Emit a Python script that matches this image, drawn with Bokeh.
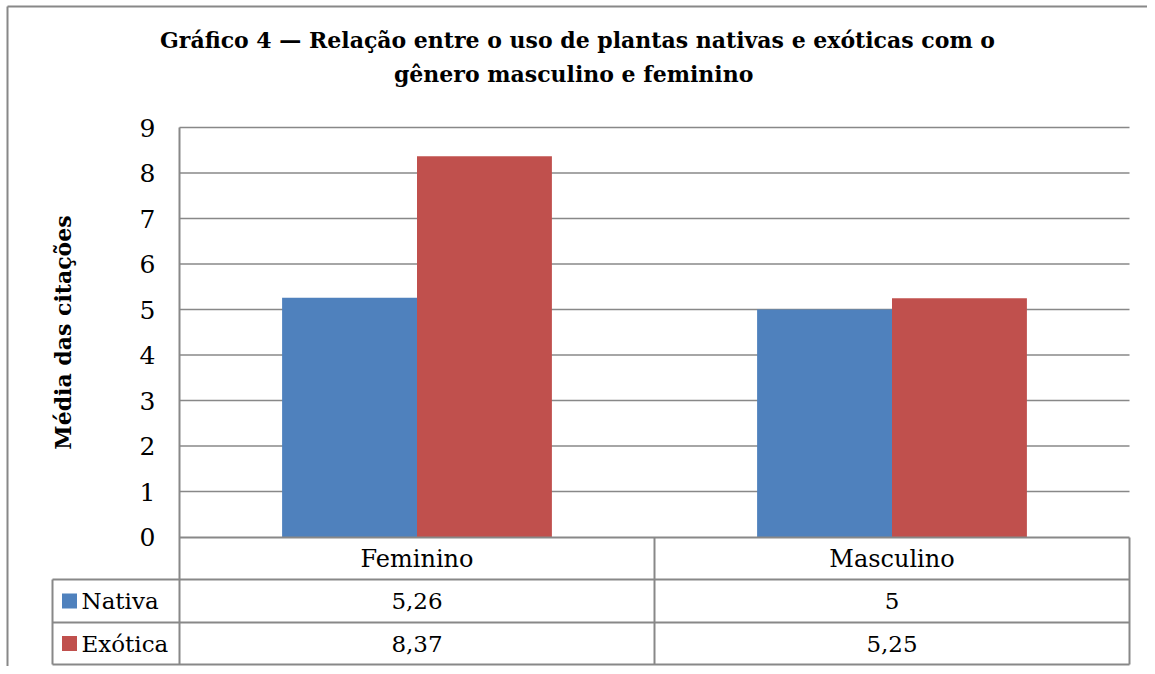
from bokeh.plotting import figure
from bokeh.models import Range1d
from bokeh.core.properties import value
from bokeh.embed import file_html
from bokeh.resources import INLINE

# ---- data ----
title_lines = ["Gráfico 4 — Relação entre o uso de plantas nativas e exóticas com o",
               "gênero  masculino e feminino"]
y_title = "Média das citações"
categories = ["Feminino", "Masculino"]
series_names = ["Nativa", "Exótica"]
nativa = [5.26, 5.0]
exotica = [8.37, 5.25]
nativa_labels = ["5,26", "5"]
exotica_labels = ["8,37", "5,25"]
y_ticks = [0, 1, 2, 3, 4, 5, 6, 7, 8, 9]

# ---- layout (picture pixel geometry -> data units) ----
W, H = 1147, 666
PX_U = 475.0     # px per category unit
PX_V = 45.5      # px per value unit
X0 = 179.0       # picture x of category axis start
Y0 = 536.5       # picture y of value 0
def ux(px):
    return (px - X0) / PX_U
def vy(py):
    return (Y0 - py) / PX_V

p = figure(width=W, height=H, output_backend="svg", toolbar_location=None,
           x_axis_location=None, y_axis_location=None, min_border=0,
           x_range=Range1d(ux(0), ux(W)), y_range=Range1d(vy(H), vy(0)))
p.grid.visible = False
p.outline_line_color = None
p.background_fill_color = "white"
p.border_fill_color = "white"

GRAY = "#888888"
SERIF = value("DejaVu Serif")
BLUE = "#4F81BD"
RED = "#C0504D"

# outer chart border (left and top, as in cropped reference)
p.segment(x0=[ux(7)], y0=[vy(6)], x1=[ux(7)], y1=[vy(H)], line_color=GRAY, line_width=2)
p.segment(x0=[ux(7)], y0=[vy(6)], x1=[ux(W)], y1=[vy(6)], line_color=GRAY, line_width=2)

# title
p.text(x=[ux(577)] * 2, y=[vy(39), vy(73)], text=title_lines, text_font=SERIF,
       text_font_size=value("22px"), text_font_style="bold", text_align="center",
       text_baseline="alphabetic", text_color="black")

# gridlines
ncat = len(categories)
grid_vals = [t for t in y_ticks if t > 0]
p.segment(x0=[0] * len(grid_vals), y0=grid_vals, x1=[ncat] * len(grid_vals), y1=grid_vals,
          line_color=GRAY, line_width=1.5)

# tick labels
p.text(x=[ux(147)] * len(y_ticks), y=y_ticks, text=[str(t) for t in y_ticks],
       text_font=SERIF, text_font_size=value("25px"), text_align="center",
       text_baseline="middle", text_color="black")

# y title
p.text(x=[ux(62)], y=[vy(332)], text=[y_title], angle=1.5707963, text_font=SERIF,
       text_font_size=value("22px"), text_font_style="bold", text_align="center",
       text_baseline="middle", text_color="black")

# bars
bw = 0.284
cx = [i + 0.5 for i in range(ncat)]
p.vbar(x=[c - bw / 2 for c in cx], top=nativa, bottom=0, width=bw, fill_color=BLUE, line_color=None)
p.vbar(x=[c + bw / 2 for c in cx], top=exotica, bottom=0, width=bw, fill_color=RED, line_color=None)

# data table lines
r_top, r1, r2, r3 = vy(537), vy(579), vy(622), vy(664)
xl = ux(52)
p.segment(x0=[0, xl, xl, xl], y0=[r_top, r1, r2, r3], x1=[ncat] * 4, y1=[r_top, r1, r2, r3],
          line_color=GRAY, line_width=2)
p.segment(x0=[0, xl, 1, ncat], y0=[9, r1, r_top, r_top], x1=[0, xl, 1, ncat], y1=[r3, r3, r3, r3],
          line_color=GRAY, line_width=2)

# table texts
p.text(x=cx, y=[(r_top + r1) / 2] * ncat, text=categories, text_font=SERIF,
       text_font_size=value("24px"), text_align="center", text_baseline="middle", text_color="black")
p.text(x=cx, y=[(r1 + r2) / 2] * ncat, text=nativa_labels, text_font=SERIF,
       text_font_size=value("23px"), text_align="center", text_baseline="middle", text_color="black")
p.text(x=cx, y=[(r2 + r3) / 2] * ncat, text=exotica_labels, text_font=SERIF,
       text_font_size=value("23px"), text_align="center", text_baseline="middle", text_color="black")

# legend keys in table
row_c = [(r1 + r2) / 2, (r2 + r3) / 2]
p.scatter(x=[ux(69)] * 2, y=row_c, marker="square", size=15, fill_color=[BLUE, RED], line_color=None)
p.text(x=[ux(81)] * 2, y=row_c, text=series_names, text_font=SERIF, text_font_size=value("23px"),
       text_align="left", text_baseline="middle", text_color="black")

open("out.html", "w").write(file_html(p, INLINE))
